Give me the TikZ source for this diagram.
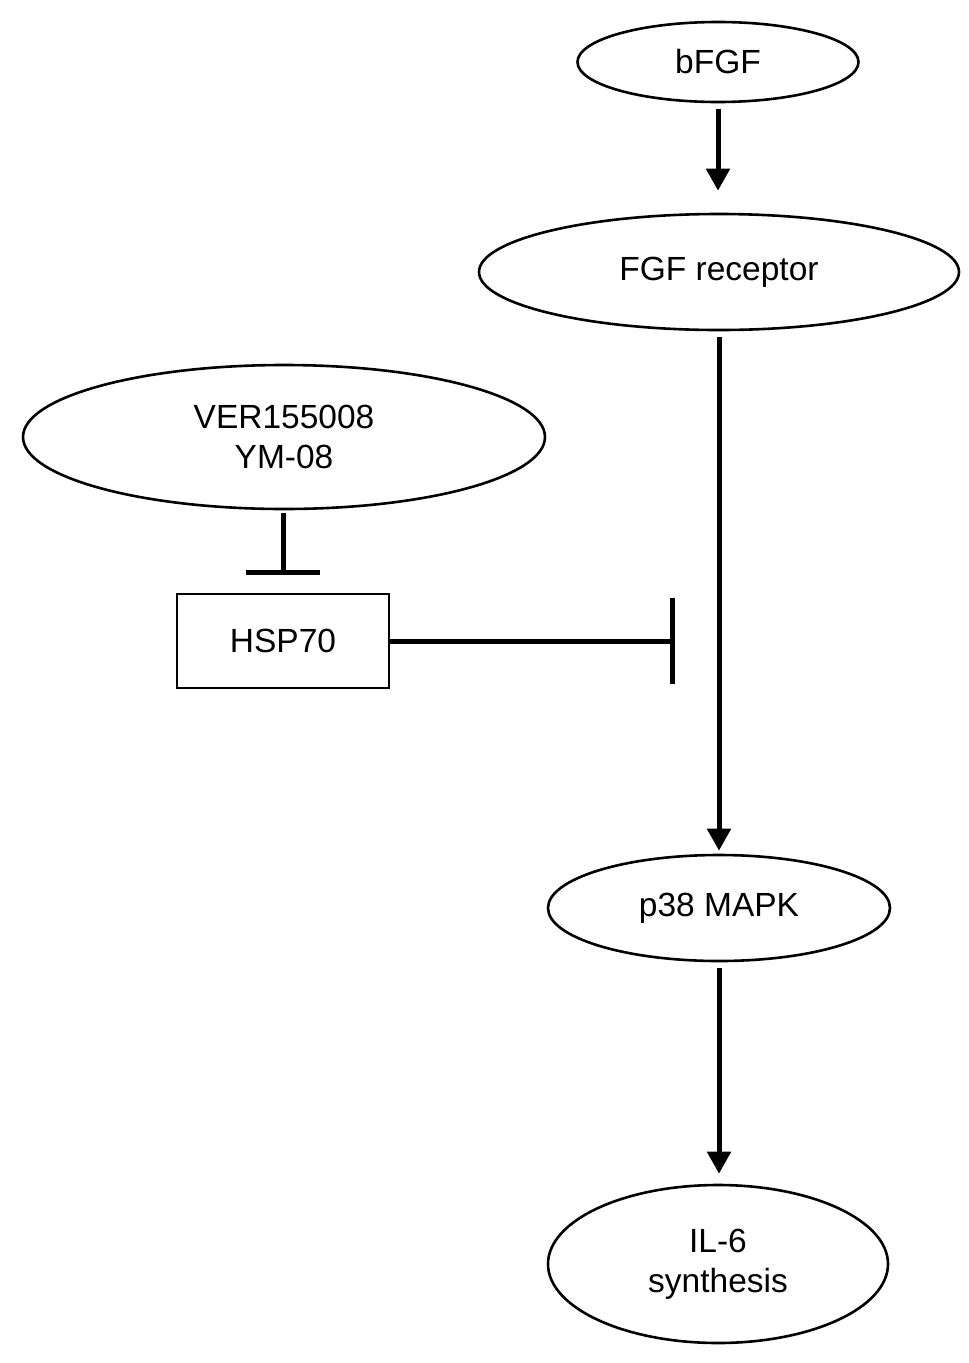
\documentclass[tikz,border=0pt]{standalone}
\usepackage{fontspec}
\setmainfont{Liberation Sans}
\usetikzlibrary{shapes.geometric,arrows.meta,calc}
\begin{document}
\begin{tikzpicture}[x=1pt,y=-1pt,
  ell/.style={draw,ellipse,line width=2.6pt,inner sep=0pt,align=center,font=\fontsize{33.5}{40}\selectfont},
  boxn/.style={draw,rectangle,line width=2.6pt,inner sep=0pt,align=center,font=\fontsize{33.5}{40}\selectfont},
  act/.style={line width=5pt,-{Triangle[width=23pt,length=22pt]}},
  inh/.style={line width=5pt}]
\useasboundingbox (0,0) rectangle (969,1363);
\node[ell,minimum width=281pt,minimum height=80pt] (bfgf) at (718,62) {bFGF};
\node[ell,minimum width=480pt,minimum height=116pt] (fgfr) at (719,272) {FGF receptor};
\node[ell,minimum width=522pt,minimum height=144pt] (ver) at (284,437) {VER155008\\YM-08};
\node[boxn,minimum width=212pt,minimum height=94pt] (hsp) at (283,641) {HSP70};
\node[ell,minimum width=342pt,minimum height=106pt] (p38) at (719,908) {p38 MAPK};
\node[ell,minimum width=340pt,minimum height=158pt] (il6) at (718,1264) {IL-6\\synthesis};
\coordinate (vbar) at (283,572);
\coordinate (hbar) at (672,641);
\draw[act,shorten <=6pt,shorten >=22pt] (bfgf.south) -- (bfgf.south |- fgfr.north);
\draw[act,shorten <=6pt,shorten >=3pt] (fgfr.south) -- (fgfr.south |- p38.north);
\draw[act,shorten <=6pt,shorten >=10pt] (p38.south) -- (p38.south |- il6.north);
\draw[inh,shorten <=3pt] (ver.south -| vbar) -- (vbar);
\draw[inh] ($(vbar)+(-37,0)$) -- ($(vbar)+(37,0)$);
\draw[inh] (hsp.east) -- (hbar);
\draw[inh] ($(hbar)+(0,-43)$) -- ($(hbar)+(0,43)$);
\end{tikzpicture}
\end{document}
